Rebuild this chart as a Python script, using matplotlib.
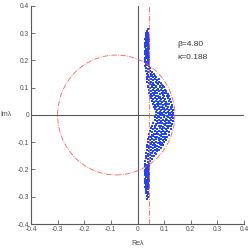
import numpy as np
import matplotlib.pyplot as plt
from matplotlib.patches import Circle

plt.rcParams['font.family'] = ['Liberation Sans', 'DejaVu Sans']

# eigenvalue cloud (Re, Im)
upper_column = [
    (0.029, 0.180), (0.036, 0.182), (0.043, 0.179),
    (0.031, 0.187), (0.039, 0.189), (0.045, 0.186),
    (0.028, 0.194), (0.035, 0.196), (0.042, 0.193),
    (0.030, 0.201), (0.038, 0.203), (0.044, 0.200),
    (0.027, 0.208), (0.034, 0.210), (0.041, 0.207),
    (0.031, 0.215), (0.038, 0.217), (0.044, 0.214),
    (0.028, 0.222), (0.035, 0.224), (0.042, 0.221),
    (0.030, 0.229), (0.037, 0.231), (0.043, 0.228),
    (0.027, 0.236), (0.034, 0.238), (0.041, 0.235),
    (0.031, 0.243), (0.038, 0.245), (0.044, 0.242),
    (0.028, 0.250), (0.035, 0.252), (0.042, 0.249),
    (0.030, 0.257), (0.037, 0.259), (0.043, 0.256),
    (0.029, 0.264), (0.036, 0.266), (0.041, 0.263),
    (0.031, 0.271), (0.038, 0.273), (0.043, 0.270),
    (0.030, 0.278), (0.037, 0.280), (0.042, 0.277),
    (0.032, 0.285), (0.039, 0.287),
    (0.031, 0.292), (0.038, 0.294),
    (0.033, 0.300), (0.039, 0.302),
    (0.034, 0.308), (0.038, 0.314),
]

bulge = [
    (0.032, 0.172), (0.041, 0.168), (0.048, 0.171),
    (0.033, 0.161), (0.040, 0.158), (0.047, 0.163), (0.055, 0.159),
    (0.034, 0.152), (0.041, 0.148), (0.049, 0.151), (0.056, 0.147), (0.063, 0.150),
    (0.035, 0.141), (0.043, 0.138), (0.050, 0.142), (0.058, 0.139), (0.065, 0.143), (0.071, 0.138),
    (0.036, 0.132), (0.044, 0.128), (0.051, 0.131), (0.059, 0.127), (0.067, 0.133), (0.074, 0.129),
    (0.080, 0.131),
    (0.037, 0.121), (0.045, 0.118), (0.052, 0.122), (0.060, 0.119), (0.068, 0.121), (0.075, 0.117),
    (0.082, 0.122), (0.088, 0.119),
    (0.038, 0.108), (0.046, 0.112), (0.053, 0.109), (0.061, 0.111), (0.069, 0.107), (0.077, 0.112),
    (0.084, 0.108), (0.091, 0.111), (0.095, 0.107),
    (0.040, 0.101), (0.047, 0.098), (0.055, 0.102), (0.063, 0.099), (0.070, 0.101), (0.078, 0.097),
    (0.086, 0.102), (0.093, 0.099), (0.101, 0.101),
    (0.042, 0.091), (0.050, 0.088), (0.057, 0.092), (0.065, 0.089), (0.073, 0.091), (0.080, 0.087),
    (0.088, 0.092), (0.096, 0.089), (0.103, 0.091), (0.108, 0.088),
    (0.044, 0.081), (0.052, 0.078), (0.060, 0.082), (0.067, 0.079), (0.075, 0.081), (0.083, 0.077),
    (0.091, 0.082), (0.098, 0.079), (0.106, 0.081), (0.113, 0.078),
    (0.047, 0.071), (0.055, 0.068), (0.062, 0.072), (0.070, 0.069), (0.078, 0.071), (0.086, 0.067),
    (0.094, 0.072), (0.101, 0.069), (0.109, 0.071), (0.118, 0.068),
    (0.050, 0.061), (0.058, 0.058), (0.066, 0.062), (0.073, 0.059), (0.081, 0.061), (0.089, 0.057),
    (0.097, 0.062), (0.105, 0.059), (0.113, 0.061), (0.122, 0.058),
    (0.054, 0.051), (0.061, 0.048), (0.069, 0.052), (0.077, 0.049), (0.085, 0.051), (0.093, 0.047),
    (0.100, 0.052), (0.108, 0.049), (0.117, 0.051), (0.125, 0.048),
    (0.058, 0.041), (0.065, 0.038), (0.073, 0.042), (0.081, 0.039), (0.089, 0.041), (0.096, 0.037),
    (0.104, 0.042), (0.112, 0.039), (0.120, 0.041), (0.128, 0.038),
    (0.062, 0.031), (0.069, 0.028), (0.077, 0.032), (0.085, 0.029), (0.093, 0.031), (0.100, 0.027),
    (0.108, 0.032), (0.116, 0.029), (0.124, 0.031), (0.131, 0.028),
    (0.066, 0.021), (0.073, 0.018), (0.081, 0.022), (0.089, 0.019), (0.097, 0.021), (0.104, 0.017),
    (0.112, 0.022), (0.120, 0.019), (0.127, 0.021), (0.132, 0.018),
    (0.069, 0.011), (0.076, 0.008), (0.084, 0.012), (0.092, 0.009), (0.099, 0.011), (0.107, 0.007),
    (0.115, 0.012), (0.123, 0.009), (0.130, 0.011), (0.134, 0.008),
    (0.070, 0.001), (0.078, -0.002), (0.086, 0.002), (0.093, -0.001), (0.101, 0.001), (0.109, -0.003),
    (0.117, 0.002), (0.124, -0.001), (0.132, 0.001),
    (0.067, -0.009), (0.075, -0.012), (0.082, -0.008), (0.090, -0.011), (0.098, -0.009), (0.106, -0.013),
    (0.114, -0.008), (0.121, -0.011), (0.129, -0.009), (0.134, -0.012),
    (0.064, -0.019), (0.072, -0.022), (0.080, -0.018), (0.087, -0.021), (0.095, -0.019), (0.103, -0.023),
    (0.111, -0.018), (0.118, -0.021), (0.126, -0.019), (0.132, -0.022),
    (0.060, -0.029), (0.068, -0.032), (0.076, -0.028), (0.083, -0.031), (0.091, -0.029), (0.099, -0.033),
    (0.107, -0.028), (0.114, -0.031), (0.122, -0.029), (0.130, -0.032),
    (0.056, -0.039), (0.064, -0.042), (0.071, -0.038), (0.079, -0.041), (0.087, -0.039), (0.095, -0.043),
    (0.103, -0.038), (0.110, -0.041), (0.118, -0.039), (0.127, -0.042),
    (0.052, -0.049), (0.060, -0.052), (0.067, -0.048), (0.075, -0.051), (0.083, -0.049), (0.091, -0.053),
    (0.099, -0.048), (0.107, -0.051), (0.115, -0.049), (0.124, -0.052),
    (0.048, -0.059), (0.056, -0.062), (0.064, -0.058), (0.072, -0.061), (0.080, -0.059), (0.088, -0.063),
    (0.095, -0.058), (0.103, -0.061), (0.111, -0.059), (0.120, -0.062),
    (0.045, -0.069), (0.053, -0.072), (0.061, -0.068), (0.069, -0.071), (0.076, -0.069), (0.084, -0.073),
    (0.092, -0.068), (0.100, -0.071), (0.108, -0.069), (0.117, -0.072),
    (0.042, -0.079), (0.050, -0.082), (0.058, -0.078), (0.066, -0.081), (0.073, -0.079), (0.081, -0.083),
    (0.089, -0.078), (0.097, -0.081), (0.105, -0.079), (0.112, -0.082),
    (0.040, -0.089), (0.048, -0.092), (0.056, -0.088), (0.063, -0.091), (0.071, -0.089), (0.079, -0.093),
    (0.087, -0.088), (0.095, -0.091), (0.102, -0.089), (0.107, -0.092),
    (0.038, -0.099), (0.046, -0.102), (0.054, -0.098), (0.061, -0.101), (0.069, -0.099), (0.077, -0.103),
    (0.085, -0.098), (0.092, -0.101), (0.100, -0.099),
    (0.036, -0.109), (0.044, -0.112), (0.052, -0.108), (0.060, -0.111), (0.067, -0.109), (0.075, -0.113),
    (0.083, -0.108), (0.090, -0.111), (0.095, -0.109),
    (0.035, -0.119), (0.043, -0.122), (0.051, -0.118), (0.058, -0.121), (0.066, -0.119), (0.074, -0.123),
    (0.081, -0.118), (0.088, -0.121),
    (0.034, -0.129), (0.042, -0.132), (0.050, -0.128), (0.057, -0.131), (0.065, -0.129), (0.073, -0.133),
    (0.080, -0.128),
    (0.033, -0.139), (0.041, -0.142), (0.049, -0.138), (0.056, -0.141), (0.064, -0.139), (0.071, -0.142),
    (0.032, -0.149), (0.040, -0.152), (0.048, -0.148), (0.055, -0.151), (0.063, -0.149),
    (0.031, -0.159), (0.039, -0.162), (0.046, -0.158), (0.055, -0.161),
    (0.030, -0.169), (0.038, -0.172), (0.047, -0.168),
]

lower_column = [
    (0.030, -0.180), (0.037, -0.182), (0.044, -0.179),
    (0.028, -0.187), (0.035, -0.189), (0.042, -0.186),
    (0.031, -0.194), (0.038, -0.196), (0.045, -0.193),
    (0.029, -0.201), (0.036, -0.203), (0.043, -0.200),
    (0.027, -0.208), (0.034, -0.210), (0.041, -0.207),
    (0.030, -0.215), (0.037, -0.217), (0.044, -0.214),
    (0.028, -0.222), (0.035, -0.224), (0.042, -0.221),
    (0.031, -0.229), (0.038, -0.231), (0.044, -0.228),
    (0.029, -0.236), (0.036, -0.238), (0.042, -0.235),
    (0.030, -0.243), (0.037, -0.245), (0.043, -0.242),
    (0.028, -0.250), (0.035, -0.252), (0.041, -0.249),
    (0.031, -0.257), (0.038, -0.259), (0.044, -0.256),
    (0.029, -0.264), (0.036, -0.266), (0.042, -0.263),
    (0.031, -0.271), (0.038, -0.273),
    (0.032, -0.279), (0.039, -0.281),
    (0.033, -0.287), (0.040, -0.290),
    (0.034, -0.296), (0.039, -0.302),
    (0.036, -0.308),
]

circle_center = (-0.08, 0.0)
circle_radius = 0.22
vline_re = 0.045

beta = 4.80
kappa = 0.188

ticks = [-0.4, -0.3, -0.2, -0.1, 0, 0.1, 0.2, 0.3, 0.4]
tick_labels = ['-0.4', '-0.3', '-0.2', '-0.1', '0', '0.1', '0.2', '0.3', '0.4']

pts = np.array(upper_column + bulge + lower_column)

fig = plt.figure(figsize=(2.49, 2.49), dpi=100)
ax = fig.add_axes([0.1245, 0.1004, 0.8555, 0.8756])

ax.plot(pts[:, 0], pts[:, 1], 's', color='#1f45ff', markersize=1.8,
        markeredgewidth=0, zorder=3)

ax.add_patch(Circle(circle_center, circle_radius, fill=False, edgecolor='#ff5a5a',
                    linestyle='-.', linewidth=0.6, zorder=4))
ax.axvline(vline_re, color='#ff5a5a', linestyle='-.', linewidth=0.6, zorder=4)

ax.axhline(0, color='0.35', linewidth=0.8, zorder=2)
ax.axvline(0, color='0.35', linewidth=0.8, zorder=2)

ax.set_xlim(-0.4, 0.4)
ax.set_ylim(-0.4, 0.4)
ax.set_xticks(ticks)
ax.set_xticklabels(tick_labels)
ax.set_yticks(ticks)
ax.set_yticklabels(tick_labels)
ax.tick_params(direction='in', length=3, width=0.6, labelsize=4.8, pad=1.5,
               colors='0.35', labelcolor='0.3')

for s in ['top', 'right']:
    ax.spines[s].set_visible(False)
for s in ['left', 'bottom']:
    ax.spines[s].set_color('0.35')
    ax.spines[s].set_linewidth(0.8)

ax.set_xlabel('Re\u03bb', fontsize=5, color='0.3', labelpad=5)
ax.set_ylabel('Im\u03bb', fontsize=5, color='0.3', rotation=0, labelpad=8, va='center')

ax.text(0.15, 0.26, f'\u03b2={beta:.2f}', fontsize=6, color='0.2', va='center')
ax.text(0.15, 0.21, f'\u03ba={kappa:.3f}', fontsize=6, color='0.2', va='center')

fig.savefig('out.png', dpi=100)
